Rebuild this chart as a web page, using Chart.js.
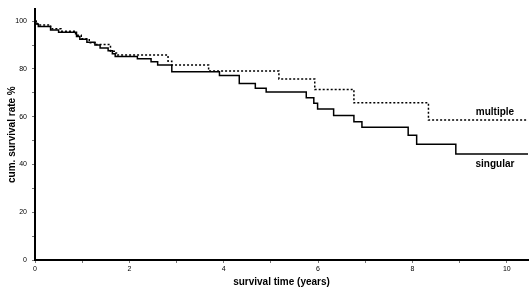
<!DOCTYPE html>
<html>
<head>
<meta charset="utf-8">
<script src="https://cdn.jsdelivr.net/npm/chart.js@4.4.1/dist/chart.umd.min.js"></script>
<style>
html,body{margin:0;padding:0;background:#fff;}
#wrap{width:530px;height:295px;position:relative;}
</style>
</head>
<body>
<div id="wrap"><canvas id="c" width="530" height="295"></canvas></div>
<script>
// Kaplan-Meier step data (time in years, cumulative survival %)
const singularTime = [0, 0.02, 0.07, 0.33, 0.5, 0.88, 0.95, 1.1, 1.27, 1.38, 1.55, 1.64, 1.7, 2.17, 2.46, 2.6, 2.9, 3.91, 4.33, 4.67, 4.9, 5.75, 5.91, 5.99, 6.33, 6.76, 6.93, 7.91, 8.09, 8.92, 10.47];
const singularSurv = [100, 98.8, 97.8, 96.3, 95.4, 93.6, 92.4, 91.2, 90.0, 88.8, 87.6, 86.4, 85.2, 84.3, 83.0, 81.6, 78.8, 77.2, 73.9, 71.9, 70.3, 67.9, 65.6, 63.2, 60.5, 57.9, 55.6, 52.2, 48.5, 44.4, 44.4];
const multipleTime = [0, 0.05, 0.33, 0.55, 0.86, 0.98, 1.15, 1.27, 1.6, 1.68, 1.75, 2.82, 2.9, 3.68, 5.17, 5.93, 6.76, 8.34, 10.47];
const multipleSurv = [100, 98.4, 96.8, 95.8, 94.1, 92.6, 91.0, 90.2, 87.4, 86.7, 85.8, 83.2, 81.6, 79.1, 75.8, 71.4, 65.8, 58.6, 58.6];
const xTickLabels = [0, 2, 4, 6, 8, 10];
const yTickLabels = [0, 20, 40, 60, 80, 100];
const seriesNames = ["singular", "multiple"];
const labelAnchors = { singular: [9.75, 40], multiple: [9.75, 62] };

const toPts = (t, v) => t.map((x, i) => ({ x: x, y: v[i] }));

const endLabels = {
  id: 'endLabels',
  afterDatasetsDraw(chart) {
    const ctx = chart.ctx, xs = chart.scales.x, ys = chart.scales.y;
    ctx.save();
    ctx.font = 'bold 10px "Liberation Sans", Arial, sans-serif';
    ctx.fillStyle = '#000';
    ctx.textAlign = 'center';
    ctx.textBaseline = 'middle';
    seriesNames.forEach(n => {
      const a = labelAnchors[n];
      ctx.fillText(n, xs.getPixelForValue(a[0]), ys.getPixelForValue(a[1]));
    });
    ctx.restore();
  }
};

const tickFont = { family: '"Liberation Sans", Arial, sans-serif', size: 7 };
const titleFont = { family: '"Liberation Sans", Arial, sans-serif', size: 10, weight: 'bold' };

new Chart(document.getElementById('c'), {
  type: 'line',
  data: {
    datasets: [
      { label: seriesNames[0], data: toPts(singularTime, singularSurv), stepped: true,
        borderColor: '#000', borderWidth: 1.5, pointRadius: 0, fill: false },
      { label: seriesNames[1], data: toPts(multipleTime, multipleSurv), stepped: true,
        borderColor: '#000', borderWidth: 1.5, borderDash: [2, 2], pointRadius: 0, fill: false }
    ]
  },
  options: {
    responsive: false,
    animation: false,
    layout: { padding: { left: 0, right: 2, top: 3, bottom: 0 } },
    plugins: { legend: { display: false }, tooltip: { enabled: false } },
    scales: {
      x: {
        type: 'linear', min: 0, max: 10.45,
        afterBuildTicks: s => { s.ticks = s.ticks.filter(t => Number.isInteger(t.value)); },
        afterFit: s => { s.height = 35; },
        ticks: { stepSize: 1, includeBounds: false, autoSkip: false, maxRotation: 0, color: '#000', font: tickFont, padding: 2,
          callback: v => xTickLabels.includes(v) ? String(v) : '' },
        grid: { drawOnChartArea: false, drawTicks: true, tickLength: 3, color: '#777' },
        border: { color: '#000', width: 2 },
        title: { display: true, text: 'survival time (years)', color: '#000', font: titleFont, padding: { top: 4, bottom: 7 } }
      },
      y: {
        type: 'linear', min: 0, max: 105,
        afterBuildTicks: s => { s.ticks = s.ticks.filter(t => t.value % 10 === 0); },
        afterFit: s => { s.width = 35; },
        ticks: { stepSize: 10, includeBounds: false, autoSkip: false, color: '#000', font: tickFont, padding: 5,
          callback: v => yTickLabels.includes(v) ? String(v) : '' },
        grid: { drawOnChartArea: false, drawTicks: true, tickLength: 3, color: '#777' },
        border: { color: '#000', width: 2 },
        title: { display: true, text: 'cum. survival rate %', color: '#000', font: titleFont, padding: { top: 6, bottom: 4 } }
      }
    }
  },
  plugins: [endLabels]
});
</script>
</body>
</html>
